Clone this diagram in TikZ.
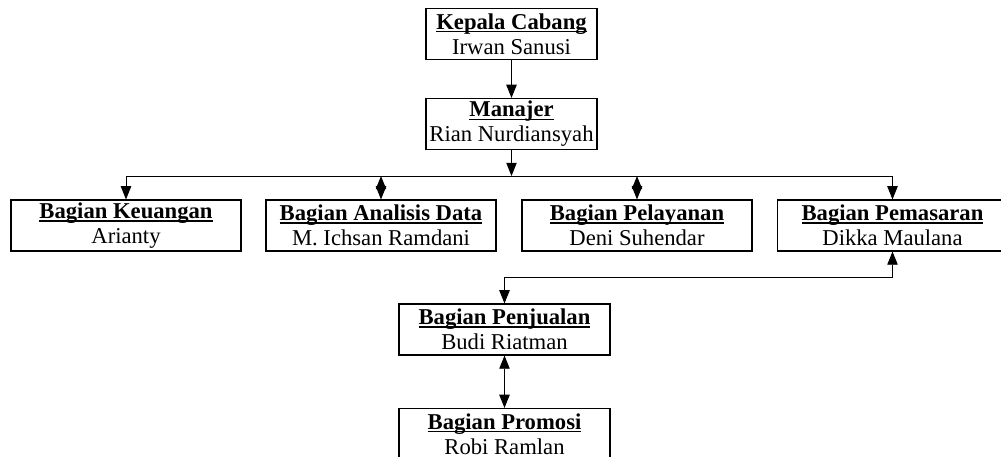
\documentclass[tikz,border=0pt]{standalone}
\usepackage{fontspec}
\setmainfont{Liberation Serif}
\usetikzlibrary{arrows.meta,positioning}
\newcommand{\ulhead}[1]{\setbox0\hbox{\textbf{#1}}\rlap{\rule[-1.7pt]{\wd0}{0.75pt}}\box0}

\begin{document}
\begin{tikzpicture}[x=0.53pt,y=-0.53pt,
  orgbox/.style={draw,line width=0.6pt,minimum width=121.9pt,minimum height=27pt,
    align=center,inner sep=1pt,font=\fontsize{12}{13.3}\selectfont},
  link/.style={line width=0.5pt,-{Triangle[length=7pt,width=5.5pt]}},
  twolink/.style={line width=0.5pt,{Triangle[length=7pt,width=5.5pt]}-{Triangle[length=7pt,width=5.5pt]}}
]
  \useasboundingbox (0,0) rectangle (1001,457);
  % Top
  \node[orgbox,minimum width=90.6pt] (kepala) at (511.5,34) {\ulhead{Kepala Cabang}\\Irwan Sanusi};
  \node[orgbox,minimum width=90.6pt] (manajer) at (511.5,124) {\ulhead{Manajer}\\Rian Nurdiansyah};
  % Row of bagian
  \node[orgbox] (keuangan) at (126,225.5) {\ulhead{Bagian Keuangan}\\Arianty};
  \node[orgbox] (analisis) at (381,225.5) {\ulhead{Bagian Analisis Data}\\M. Ichsan Ramdani};
  \node[orgbox] (pelayanan) at (637,225.5) {\ulhead{Bagian Pelayanan}\\Deni Suhendar};
  \node[orgbox] (pemasaran) at (892.5,225.5) {\ulhead{Bagian Pemasaran}\\Dikka Maulana};
  % Under Pemasaran
  \node[orgbox,minimum width=111.8pt] (penjualan) at (504.5,329.5) {\ulhead{Bagian Penjualan}\\Budi Riatman};
  \node[orgbox,minimum width=111.8pt] (promosi) at (504.5,434) {\ulhead{Bagian Promosi}\\Robi Ramlan};
  % Connectors
  \draw[link] (kepala) -- (manajer);
  \draw[link] (manajer.south) -- ++(0,26) coordinate (bus);
  \draw[line width=0.5pt] (keuangan.north |- bus) -- (pemasaran.north |- bus);
  \draw[link] (bus) -| (keuangan.north);
  \draw[link] (bus) -| (pemasaran.north);
  \draw[twolink] (analisis.north |- bus) -- (analisis.north);
  \draw[twolink] (pelayanan.north |- bus) -- (pelayanan.north);
  \draw[twolink] (pemasaran.south) -- ++(0,26) -| (penjualan.north);
  \draw[twolink] (penjualan) -- (promosi);
\end{tikzpicture}
\end{document}
